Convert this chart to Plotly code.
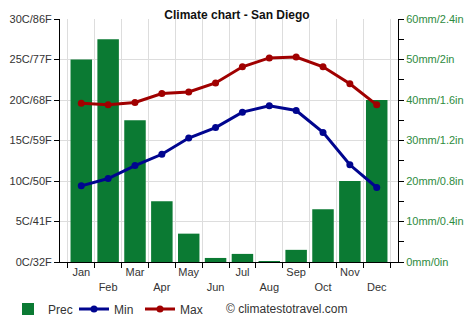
import plotly.graph_objects as go

months = ["Jan", "Feb", "Mar", "Apr", "May", "Jun", "Jul", "Aug", "Sep", "Oct", "Nov", "Dec"]
prec = [50, 55, 35, 15, 7, 1, 2, 0.2, 3, 13, 20, 40]
tmin = [9.4, 10.3, 11.9, 13.3, 15.3, 16.6, 18.5, 19.3, 18.7, 16.0, 12.0, 9.2]
tmax = [19.6, 19.4, 19.7, 20.8, 21.0, 22.1, 24.1, 25.2, 25.3, 24.1, 22.0, 19.4]
left_ticks = ["0C/32F", "5C/41F", "10C/50F", "15C/59F", "20C/68F", "25C/77F", "30C/86F"]
right_ticks = ["0mm/0in", "10mm/0.4in", "20mm/0.8in", "30mm/1.2in", "40mm/1.6in", "50mm/2in", "60mm/2.4in"]

month_labels = [m if i % 2 == 0 else "<br>" + m for i, m in enumerate(months)]

fig = go.Figure()
fig.add_trace(go.Bar(x=months, y=prec, name="Prec", marker_color="#0b7a33",
                     yaxis="y", marker_line_width=0))
fig.add_trace(go.Scatter(x=months, y=tmin, name="Min", mode="lines+markers", yaxis="y2",
                         line=dict(color="#00058f", width=3), marker=dict(size=7, color="#00058f")))
fig.add_trace(go.Scatter(x=months, y=tmax, name="Max", mode="lines+markers", yaxis="y2",
                         line=dict(color="#a00000", width=3), marker=dict(size=7, color="#a00000")))

font = "Liberation Sans, Arial, sans-serif"
plot_h = 331 - 19 - 69
fig.update_layout(
    width=474, height=331,
    margin=dict(l=60, r=76, t=19, b=69, autoexpand=False),
    plot_bgcolor="white", paper_bgcolor="white",
    font=dict(family=font, size=11, color="#333333"),
    bargap=0.2,
    title=dict(text="<b>Climate chart - San Diego</b>", x=0.5, xref="container", xanchor="center",
               y=1 - 15 / 331, yref="container", yanchor="middle",
               font=dict(size=12, color="#111111", family=font)),
    xaxis=dict(type="category", tickson="boundaries", tickvals=months, ticktext=month_labels,
               tickangle=0, automargin=False,
               showgrid=True, gridcolor="#dddddd", ticks="outside", ticklen=5, tickcolor="#000",
               showline=True, linecolor="#000", linewidth=1,
               tickfont=dict(size=11, color="#333333")),
    yaxis2=dict(range=[0, 30], overlaying="y", side="left", tickvals=[0, 5, 10, 15, 20, 25, 30],
                ticktext=left_ticks, automargin=False,
                showgrid=False, ticks="outside", ticklen=5, tickcolor="#000",
                showline=True, linecolor="#000", linewidth=1, zeroline=False,
                tickfont=dict(size=11, color="#333333")),
    yaxis=dict(range=[0, 60], side="right", tickvals=[0, 10, 20, 30, 40, 50, 60],
               ticktext=right_ticks, automargin=False,
               showgrid=True, gridcolor="#dddddd", ticks="outside", ticklen=5, tickcolor="#000",
               showline=True, linecolor="#000", linewidth=1, zeroline=False,
               minor=dict(dtick=5, ticks="outside", ticklen=5, tickcolor="#000", showgrid=False),
               tickfont=dict(size=11, color="#2e8b3e")),
    legend=dict(orientation="h", x=8 / 474, xref="container", xanchor="left",
                y=1 - 309 / 331, yref="container", yanchor="middle",
                font=dict(size=12, color="#333333"), itemwidth=30,
                entrywidth=21, entrywidthmode="pixels",
                traceorder="normal"),
    showlegend=True,
)
fig.add_annotation(text="© climatestotravel.com", xref="paper", yref="paper",
                   x=(224 - 60) / 338, y=-(309 - 262) / plot_h, xanchor="left", yanchor="middle",
                   showarrow=False, font=dict(size=12, color="#333333", family=font))

fig.write_html("out.html")
